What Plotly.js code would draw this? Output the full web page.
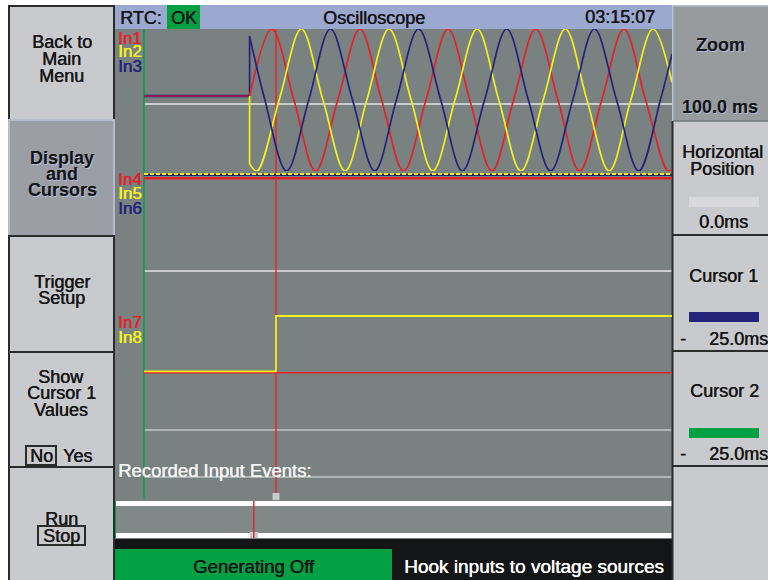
<!DOCTYPE html>
<html><head><meta charset="utf-8">
<script src="https://cdn.plot.ly/plotly-3.0.1.min.js"></script>
<style>html,body{margin:0;padding:0;background:#fff;}#chart{width:768px;height:580px;}</style>
</head><body><div id="chart"></div>
<script>
// ---------------- DATA (read from the screen) ----------------
// time axis in ms, 100.0 ms window
const preTimeMs = [0, 20.0];
const preLevel = [0.056, 0.056];           // In1..In3 before trigger (per-unit)
const stepTimeMs = [20.0, 20.0];
const In2Step = [0.056, -0.9];
const In3Step = [0.056, 0.9];

const In1TimeMs = [20.0, 24.2, 28.4, 32.5, 36.7, 40.9, 45.0, 49.2, 53.4, 57.6, 61.7, 65.9, 70.0, 74.2, 78.4, 82.5, 86.7, 90.9, 95.0, 99.2, 100];
const In1Value  = [0.056, 1, 0, -1, 0, 1, 0, -1, 0, 1, 0, -1, 0, 1, 0, -1, 0, 1, 0, -1, -0.98];
const In2TimeMs = [20.0, 21.4, 25.6, 29.8, 33.9, 38.1, 42.2, 46.4, 50.6, 54.7, 58.9, 63.1, 67.2, 71.4, 75.6, 79.8, 83.9, 88.1, 92.2, 96.4, 100];
const In2Value  = [-0.9, -1, 0, 1, 0, -1, 0, 1, 0, -1, 0, 1, 0, -1, 0, 1, 0, -1, 0, 1, 0.25];
const In3TimeMs = [20.0, 22.9, 27.0, 31.2, 35.3, 39.5, 43.7, 47.8, 52.0, 56.2, 60.3, 64.5, 68.7, 72.8, 77.0, 81.2, 85.3, 89.5, 93.7, 97.8, 100];
const In3Value  = [0.9, 0, -1, 0, 1, 0, -1, 0, 1, 0, -1, 0, 1, 0, -1, 0, 1, 0, -1, 0, 0.65];

const flatTimeMs = [0, 100];
const In4Level = [-0.22, -0.22];
const In5Level = [0.07, 0.07];
const In6Level = [0.0, 0.0];

const In7TimeMs = [0, 100];
const In7Level = [-0.015, -0.015];
const In8TimeMs = [0, 25.0, 25.0, 100];
const In8Level = [0.01, 0.01, 1, 1];

const cursorTimesMs = [0.0, 25.0];      // green cursor, red cursor
const eventTimesMs = [20.8];            // recorded input events

const channelNames = ['In1','In2','In3','In4','In5','In6','In7','In8'];

// ---------------- helpers ----------------
const W = 768, H = 580;
const X = p => p / W;
const Y = p => 1 - p / H;
const FONT = 'Liberation Sans, Arial, sans-serif';
const RED = '#e32128', YEL = '#f2f21c', NAV = '#23237a', GRN = '#00a043';

const shapes = [];
const rect = (x0, y0, x1, y1, fill, lc, lw) => shapes.push({type:'rect', xref:'paper', yref:'paper',
  x0:X(x0), x1:X(x1), y0:Y(y1), y1:Y(y0), fillcolor:fill, line:{color:lc||fill, width:lw||0}, layer:'below'});
const hline = (x0, x1, y, color, w) => shapes.push({type:'line', xref:'paper', yref:'paper',
  x0:X(x0), x1:X(x1), y0:Y(y), y1:Y(y), line:{color, width:w}, layer:'below'});

const ann = [];
const txt = (text, x, y, opts={}) => {
  const color = opts.color || '#151515';
  ann.push(Object.assign({text, xref:'paper', yref:'paper', x:X(x), y:Y(y),
    showarrow:false, xanchor:'center', yanchor:'middle',
    font:{family:FONT, size:opts.size||18, color, weight:opts.weight||'normal',
          shadow: opts.shadow || ('0.45px 0 0 ' + color)}}, opts.extra||{}));
};

// ---------------- UI frame ----------------
const BTN = '#c9cacd', BORDER = '#2b2b2b';
// left buttons
rect(9, 6, 114, 120, BTN, BORDER, 2);
rect(9, 120, 114, 236, '#9b9fa5', '#b3bbcd', 2);
rect(9, 236, 114, 352, BTN, BORDER, 2);
rect(9, 352, 114, 467, BTN, BORDER, 2);
rect(9, 467, 114, 582, BTN, BORDER, 2);
// No / Stop boxes
rect(26, 446, 56, 465, BTN, BORDER, 2);
rect(38, 526, 85, 545, BTN, BORDER, 2);

// top bar
rect(115, 5, 672, 29, '#9ba8d0');
rect(167, 5, 200, 29, GRN);
// plot area
rect(115, 29, 672, 539, '#7a8181');
rect(115, 506, 672, 533, '#808888');
// reference lines
hline(144, 672, 104, '#e4e6e6', 1.5);
hline(144, 672, 271, '#e4e6e6', 1.5);
hline(144, 672, 430, '#c2c6c6', 1.5);
hline(144, 672, 477, '#c2c6c6', 1.5);
// event strips
rect(115, 501, 672, 506, '#ffffff');
rect(115, 533, 672, 538, '#ffffff');
// bottom bar
rect(115, 539, 672, 580, '#141516');
rect(115, 549, 392, 581, GRN);

// right panel
rect(673, 6, 769, 121, '#979b9e', '#a9b1c8', 1.5);
rect(673, 121, 769, 235, BTN);
rect(673, 235, 769, 351, BTN);
rect(673, 351, 769, 466, BTN);
rect(673, 466, 769, 581, BTN);
shapes.push({type:'line', xref:'paper', yref:'paper', x0:X(672.5), x1:X(672.5), y0:Y(121), y1:Y(580), line:{color:BORDER, width:2}, layer:'below'});
hline(673, 768, 121, '#6f7477', 1.5);
hline(673, 768, 235, BORDER, 2);
hline(673, 768, 351, BORDER, 2);
hline(673, 768, 466, BORDER, 2);
rect(689, 197, 759, 207, '#d9d9db');
rect(689, 312, 759, 322, NAV);
rect(689, 428, 759, 438, GRN);

// cursor lines (through the x scale)
const cursorColors = [GRN, '#e8262c'];
const cursorBottoms = [498, 493];
cursorTimesMs.forEach((t, i) => shapes.push({type:'line', xref:'x', yref:'paper', x0:t, x1:t,
  y0:Y(29), y1:Y(cursorBottoms[i]), line:{color:cursorColors[i], width:1.5}, layer:'below'}));
// cursor marker on event strip
shapes.push({type:'rect', xref:'x', yref:'paper', x0:cursorTimesMs[1]-0.65, x1:cursorTimesMs[1]+0.65,
  y0:Y(500), y1:Y(493), fillcolor:'#c8cccc', line:{width:0}, layer:'below'});
// recorded events
eventTimesMs.forEach(t => {
  shapes.push({type:'line', xref:'x', yref:'paper', x0:t, x1:t, y0:Y(538), y1:Y(501), line:{color:'#e8262c', width:1.5}, layer:'above'});
  shapes.push({type:'rect', xref:'x', yref:'paper', x0:t-0.8, x1:t+0.8, y0:Y(538), y1:Y(532), fillcolor:'#c8cccc', line:{width:0}, layer:'below'});
});
shapes.push({type:'line', xref:'paper', yref:'paper', x0:X(115.5), x1:X(115.5), y0:Y(538), y1:Y(501), line:{color:GRN, width:1}, layer:'below'});

// ---------------- texts ----------------
const blueShadow = '1px 1px 0 #b4bcdc, 0.5px 0 0 #151515';
txt('Back to', 61.5, 42); txt('Main', 61.5, 59); txt('Menu', 61.5, 75.5);
txt('Display', 62, 158, {weight:'bold', shadow:blueShadow}); txt('and', 62, 173.5, {weight:'bold', shadow:blueShadow}); txt('Cursors', 62, 189.5, {weight:'bold', shadow:blueShadow});
txt('Trigger', 61.5, 282); txt('Setup', 61.5, 298);
txt('Show', 61, 376.5); txt('Cursor 1', 61, 393); txt('Values', 61, 410);
txt('No', 41, 455.5); txt('Yes', 77.5, 455.5);
txt('Run', 61.5, 518.5); txt('Stop', 61.5, 536);

txt('RTC:', 141, 18); txt('OK', 183.5, 18);
txt('Oscilloscope', 373.5, 18); txt('03:15:07', 620, 17.5);

txt('Zoom', 720, 45, {weight:'bold', shadow:blueShadow}); txt('100.0 ms', 720, 107, {weight:'bold', shadow:blueShadow});
txt('Horizontal', 722, 152); txt('Position', 722, 168.5);
txt('0.0ms', 723, 222.5);
txt('Cursor 1', 723, 275.5);
txt('-', 683, 338.5); txt('25.0ms', 738.5, 338.5);
txt('Cursor 2', 724, 391);
txt('-', 683, 453.5); txt('25.0ms', 738.5, 453.5);

const labelColors = [RED, YEL, NAV, RED, YEL, NAV, RED, YEL];
const labelY = [38, 52, 66.5, 179, 193.5, 208, 322.5, 337];
channelNames.forEach((n, i) => txt(n, 116, labelY[i], {size:17, color:labelColors[i], extra:{xanchor:'left'}}));

txt('Recorded Input Events:', 116, 470, {color:'#f4f4f4', size:18.5, extra:{xanchor:'left'}});
txt('Generating Off', 253.5, 566.5, {size:18.5});
txt('Hook inputs to voltage sources', 402, 566.5, {color:'#ffffff', size:19, extra:{xanchor:'left'}});

// ---------------- traces ----------------
const ln = (x, y, color, width, yaxis, extra={}) => Object.assign({type:'scatter', mode:'lines', x, y,
  xaxis:'x', yaxis, line:Object.assign({color, width}, extra.line||{}), hoverinfo:'skip', showlegend:false}, extra.rest||{});
const spl = {line:{shape:'spline', smoothing:1}};

const traces = [
  ln(preTimeMs, preLevel, NAV, 2.6, 'y'),
  ln(preTimeMs, preLevel, RED, 1.2, 'y'),
  ln(stepTimeMs, In2Step, YEL, 1.7, 'y'),
  ln(stepTimeMs, In3Step, NAV, 1.7, 'y'),
  ln(In1TimeMs, In1Value, RED, 1.7, 'y', spl),
  ln(In2TimeMs, In2Value, YEL, 1.7, 'y', spl),
  ln(In3TimeMs, In3Value, NAV, 1.7, 'y', spl),
  ln(flatTimeMs, In4Level, RED, 2.6, 'y2'),
  ln(flatTimeMs, In6Level, NAV, 2.2, 'y2'),
  ln(flatTimeMs, In5Level, YEL, 2, 'y2', {line:{dash:'4px,2px'}}),
  ln(In7TimeMs, In7Level, RED, 1.5, 'y3'),
  ln(In8TimeMs, In8Level, YEL, 1.8, 'y3'),
];

const hidden = {visible:false, fixedrange:true, showgrid:false, zeroline:false};
const layout = {
  width: W, height: H, margin:{l:0, r:0, t:0, b:0},
  paper_bgcolor:'#ffffff', plot_bgcolor:'rgba(0,0,0,0)', showlegend:false,
  xaxis: Object.assign({domain:[X(115), X(672)], range:[-5.49, 100], anchor:'y'}, hidden),
  yaxis: Object.assign({domain:[Y(171), Y(29)], range:[-1, 1], anchor:'x'}, hidden),
  yaxis2: Object.assign({domain:[Y(321), Y(29)], range:[-10, 10], anchor:'x'}, hidden),
  yaxis3: Object.assign({domain:[Y(400), Y(288)], range:[-0.5, 1.5], anchor:'x'}, hidden),
  shapes, annotations: ann
};
Plotly.newPlot('chart', traces, layout, {staticPlot:true, displayModeBar:false});
</script>
</body></html>
